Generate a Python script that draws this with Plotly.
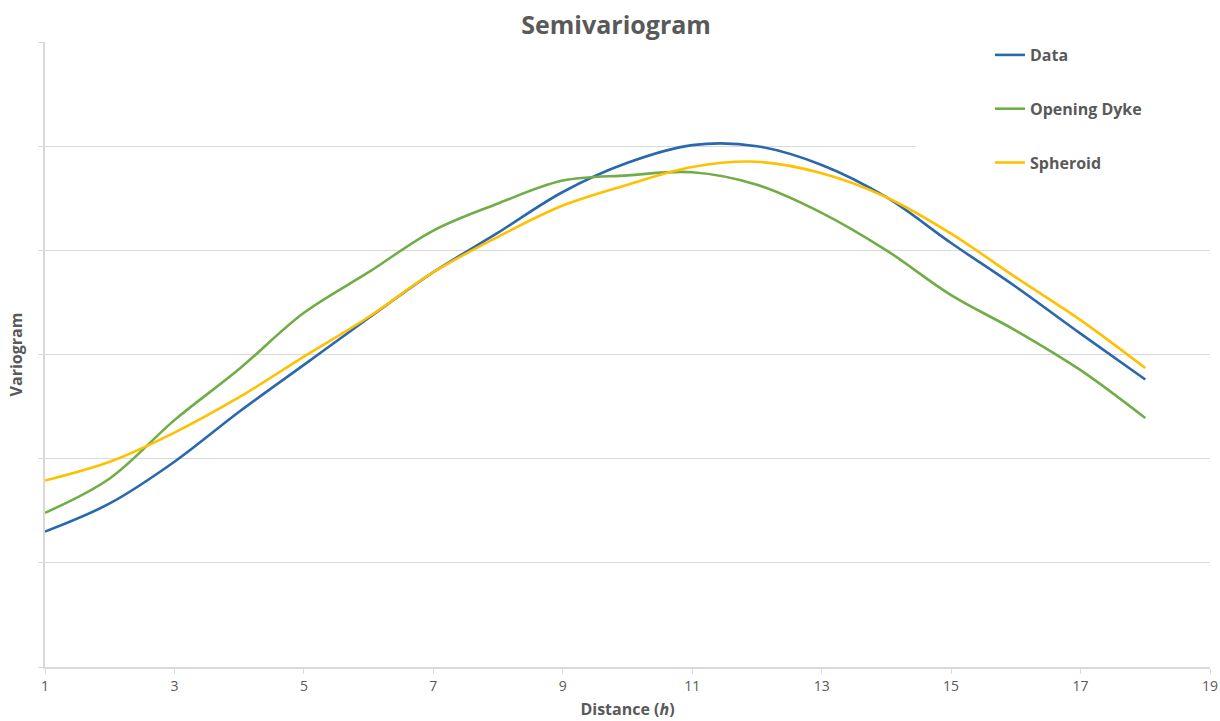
import plotly.graph_objects as go

# Lag distances (h)
distance = list(range(1, 19))

# Experimental semivariogram and the two model fits
data_vals = [1.30, 1.57, 1.97, 2.45, 2.90, 3.35, 3.79, 4.17, 4.56, 4.84, 5.01, 5.00,
             4.82, 4.51, 4.07, 3.65, 3.20, 2.76]
dyke_vals = [1.48, 1.81, 2.37, 2.86, 3.40, 3.79, 4.19, 4.45, 4.67, 4.72, 4.75, 4.63,
             4.36, 4.00, 3.57, 3.23, 2.85, 2.39]
spheroid_vals = [1.79, 1.97, 2.25, 2.59, 2.98, 3.36, 3.79, 4.13, 4.43, 4.63, 4.80, 4.85,
                 4.74, 4.51, 4.16, 3.74, 3.33, 2.87]

series_names = ["Data", "Opening Dyke", "Spheroid"]
series_vals = [data_vals, dyke_vals, spheroid_vals]
series_colors = ["#2A68AE", "#70AD47", "#FFC000"]

x_ticks = [1, 3, 5, 7, 9, 11, 13, 15, 17, 19]
y_grid = [0, 1, 2, 3, 4, 5, 6]

FONT = "Open Sans"
TEXT = "#595959"
GRID = "#D9D9D9"

fig = go.Figure()
for i, (name, vals, col) in enumerate(zip(series_names, series_vals, series_colors)):
    fig.add_trace(go.Scatter(
        x=distance, y=vals, name=f"<b>{name}</b>", mode="lines",
        line=dict(color=col, width=2.6, shape="spline", smoothing=1.0),
        legendgroup=f"g{i}",
    ))

# white panel behind the legend that hides the grid in the upper right corner
fig.add_shape(type="rect", xref="x", yref="y", x0=14.45, x1=19.2, y0=4.55, y1=6.2,
              fillcolor="white", line=dict(width=0), layer="between")

fig.update_layout(
    width=1220, height=721,
    margin=dict(l=45, r=10, t=42, b=54),
    paper_bgcolor="white", plot_bgcolor="white",
    font=dict(family=FONT, color=TEXT, size=13),
    title=dict(text="<b>Semivariogram</b>", x=0.505, xanchor="center", y=0.965,
               yanchor="middle", font=dict(family=FONT, size=25, color=TEXT)),
    showlegend=True,
    legend=dict(x=(990 - 45) / 1165, xanchor="left", y=1.0064, yanchor="top",
                bgcolor="rgba(255,255,255,0)", traceorder="grouped",
                tracegroupgap=30, font=dict(family=FONT, size=16, color=TEXT),
                itemwidth=30),
    xaxis=dict(
        range=[1, 19], tickmode="array", tickvals=x_ticks, automargin=False,
        ticks="outside", ticklen=5, tickcolor=GRID, showgrid=False,
        showline=True, linecolor=GRID, linewidth=1.5, zeroline=False,
        tickfont=dict(family=FONT, size=14, color=TEXT),
        title=dict(text="<b>Distance (<i>h</i>)</b>", standoff=10,
                   font=dict(family=FONT, size=16, color=TEXT)),
    ),
    yaxis=dict(
        range=[0, 6], tickmode="array", tickvals=y_grid, showticklabels=False,
        ticks="outside", ticklen=5, tickcolor=GRID, automargin=False,
        showgrid=True, gridcolor=GRID, gridwidth=1.2,
        showline=True, linecolor=GRID, linewidth=1.5, zeroline=False,
        title=dict(text="<b>Variogram</b>", standoff=12,
                   font=dict(family=FONT, size=16, color=TEXT)),
    ),
)

fig.write_html("out.html")
